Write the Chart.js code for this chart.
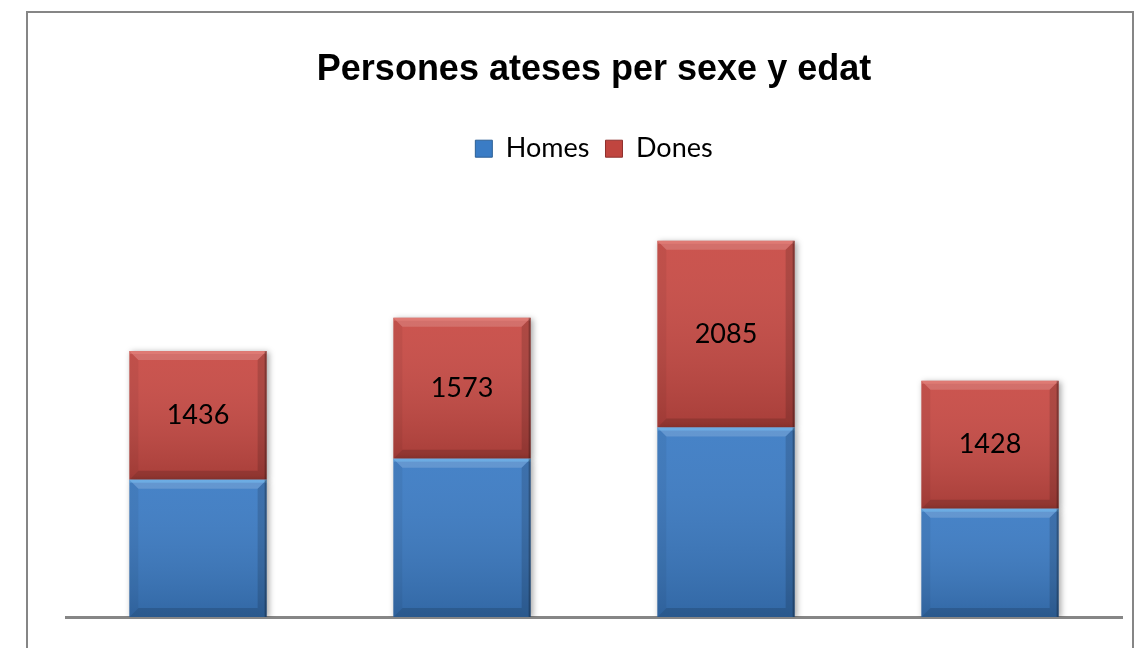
<!DOCTYPE html>
<html>
<head>
<meta charset="utf-8">
<script src="https://cdn.jsdelivr.net/npm/chart.js@4.4.1/dist/chart.umd.min.js"></script>
<style>
  html, body { margin: 0; padding: 0; background: #ffffff; }
  #wrap { position: relative; width: 1135px; height: 648px; }
</style>
</head>
<body>
<div id="wrap"><canvas id="c" width="1135" height="648"></canvas></div>
<script>
// ---- data ----
const categories = ["Grup 1", "Grup 2", "Grup 3", "Grup 4"];
const homesValues = [1533, 1768, 2115, 1209];
const donesValues = [1436, 1573, 2085, 1428];
const seriesNames = ["Homes", "Dones"];
const titleText = "Persones ateses per sexe y edat";

const BLUE = { base: "#3b7bc4", hi: "#74bdf3" };
const RED  = { base: "#c84a44", hi: "#e8847c" };

const frame = {
  id: "frame",
  beforeDraw(chart) {
    const c = chart.ctx;
    c.save();
    c.strokeStyle = "#868686";
    c.lineWidth = 2;
    c.strokeRect(27, 12, 1106, 660);
    c.restore();
  }
};

const bevel = {
  id: "bevel",
  beforeDatasetDraw(chart, args) {
    const c = chart.ctx;
    c.save();
    c.shadowColor = "rgba(0,0,0,0.35)";
    c.shadowBlur = 6;
    c.shadowOffsetX = 2;
    c.shadowOffsetY = 1;
  },
  afterDatasetDraw(chart, args) {
    const c = chart.ctx;
    c.restore();
    const meta = chart.getDatasetMeta(args.index);
    const pal = args.index === 0 ? BLUE : RED;
    c.save();
    meta.data.forEach(el => {
      const w = el.width;
      const l = el.x - w / 2, r = el.x + w / 2;
      const t = Math.min(el.y, el.base), btm = Math.max(el.y, el.base);
      const s = 9;
      // body gradient
      const g = c.createLinearGradient(0, t, 0, btm);
      g.addColorStop(0, "rgba(255,255,255,0.06)");
      g.addColorStop(1, "rgba(0,0,0,0.16)");
      c.fillStyle = g;
      c.fillRect(l, t, w, btm - t);
      // top bevel
      c.fillStyle = "rgba(255,255,255,0.16)";
      c.beginPath(); c.moveTo(l, t); c.lineTo(r, t); c.lineTo(r - s, t + s); c.lineTo(l + s, t + s); c.closePath(); c.fill();
      c.fillStyle = pal.hi;
      c.globalAlpha = 0.55;
      c.fillRect(l, t, w, 3);
      c.globalAlpha = 1;
      // bottom bevel
      c.fillStyle = "rgba(0,0,0,0.14)";
      c.beginPath(); c.moveTo(l, btm); c.lineTo(r, btm); c.lineTo(r - s, btm - s); c.lineTo(l + s, btm - s); c.closePath(); c.fill();
      // right bevel
      c.fillStyle = "rgba(0,0,0,0.14)";
      c.beginPath(); c.moveTo(r, t); c.lineTo(r, btm); c.lineTo(r - s, btm - s); c.lineTo(r - s, t + s); c.closePath(); c.fill();
      // left bevel
      c.fillStyle = "rgba(0,0,0,0.05)";
      c.beginPath(); c.moveTo(l, t); c.lineTo(l, btm); c.lineTo(l + s, btm - s); c.lineTo(l + s, t + s); c.closePath(); c.fill();
      // right edge dark line
      c.fillStyle = "rgba(0,0,0,0.25)";
      c.fillRect(r - 2, t, 2, btm - t);
    });
    c.restore();
  }
};

const labels = {
  id: "donesLabels",
  afterDatasetsDraw(chart) {
    const meta = chart.getDatasetMeta(1);
    const c = chart.ctx;
    c.save();
    c.fillStyle = "#000000";
    c.font = "27px Lato, 'Open Sans', sans-serif";
    c.textAlign = "center";
    c.textBaseline = "middle";
    meta.data.forEach((el, i) => {
      const cy = (el.y + el.base) / 2;
      c.fillText(String(donesValues[i]), el.x, cy);
    });
    c.restore();
  }
};

new Chart(document.getElementById("c"), {
  type: "bar",
  data: {
    labels: categories,
    datasets: [
      { label: seriesNames[0], data: homesValues, backgroundColor: BLUE.base, borderWidth: 0 },
      { label: seriesNames[1], data: donesValues, backgroundColor: RED.base, borderWidth: 0 }
    ]
  },
  options: {
    responsive: false,
    animation: false,
    devicePixelRatio: 1,
    layout: { padding: { left: 66, right: 13, top: 0, bottom: 31 } },
    datasets: { bar: { categoryPercentage: 1.0, barPercentage: 0.52 } },
    scales: {
      x: {
        stacked: true,
        grid: { display: false, drawTicks: false },
        border: { display: true, color: "#868686", width: 3 },
        ticks: { display: false }
      },
      y: {
        stacked: true,
        display: false,
        min: 0,
        max: 4966
      }
    },
    plugins: {
      title: {
        display: true,
        text: titleText,
        color: "#000000",
        font: { family: "'Liberation Sans', Arial, sans-serif", size: 36, weight: "bold" },
        padding: { top: 48, bottom: 28 }
      },
      legend: {
        display: true,
        position: "top",
        labels: {
          color: "#000000",
          font: { family: "Lato, 'Open Sans', sans-serif", size: 27 },
          boxWidth: 17,
          boxHeight: 17,
          padding: 16,
          generateLabels(chart) {
            return chart.data.datasets.map((ds, i) => ({
              text: ds.label,
              fillStyle: i === 0 ? "#3a7cc5" : "#c0453f",
              strokeStyle: i === 0 ? "#2c5f95" : "#8f302d",
              lineWidth: 1,
              datasetIndex: i,
              hidden: false
            }));
          }
        }
      },
      tooltip: { enabled: false }
    }
  },
  plugins: [frame, bevel, labels]
});
</script>
</body>
</html>
